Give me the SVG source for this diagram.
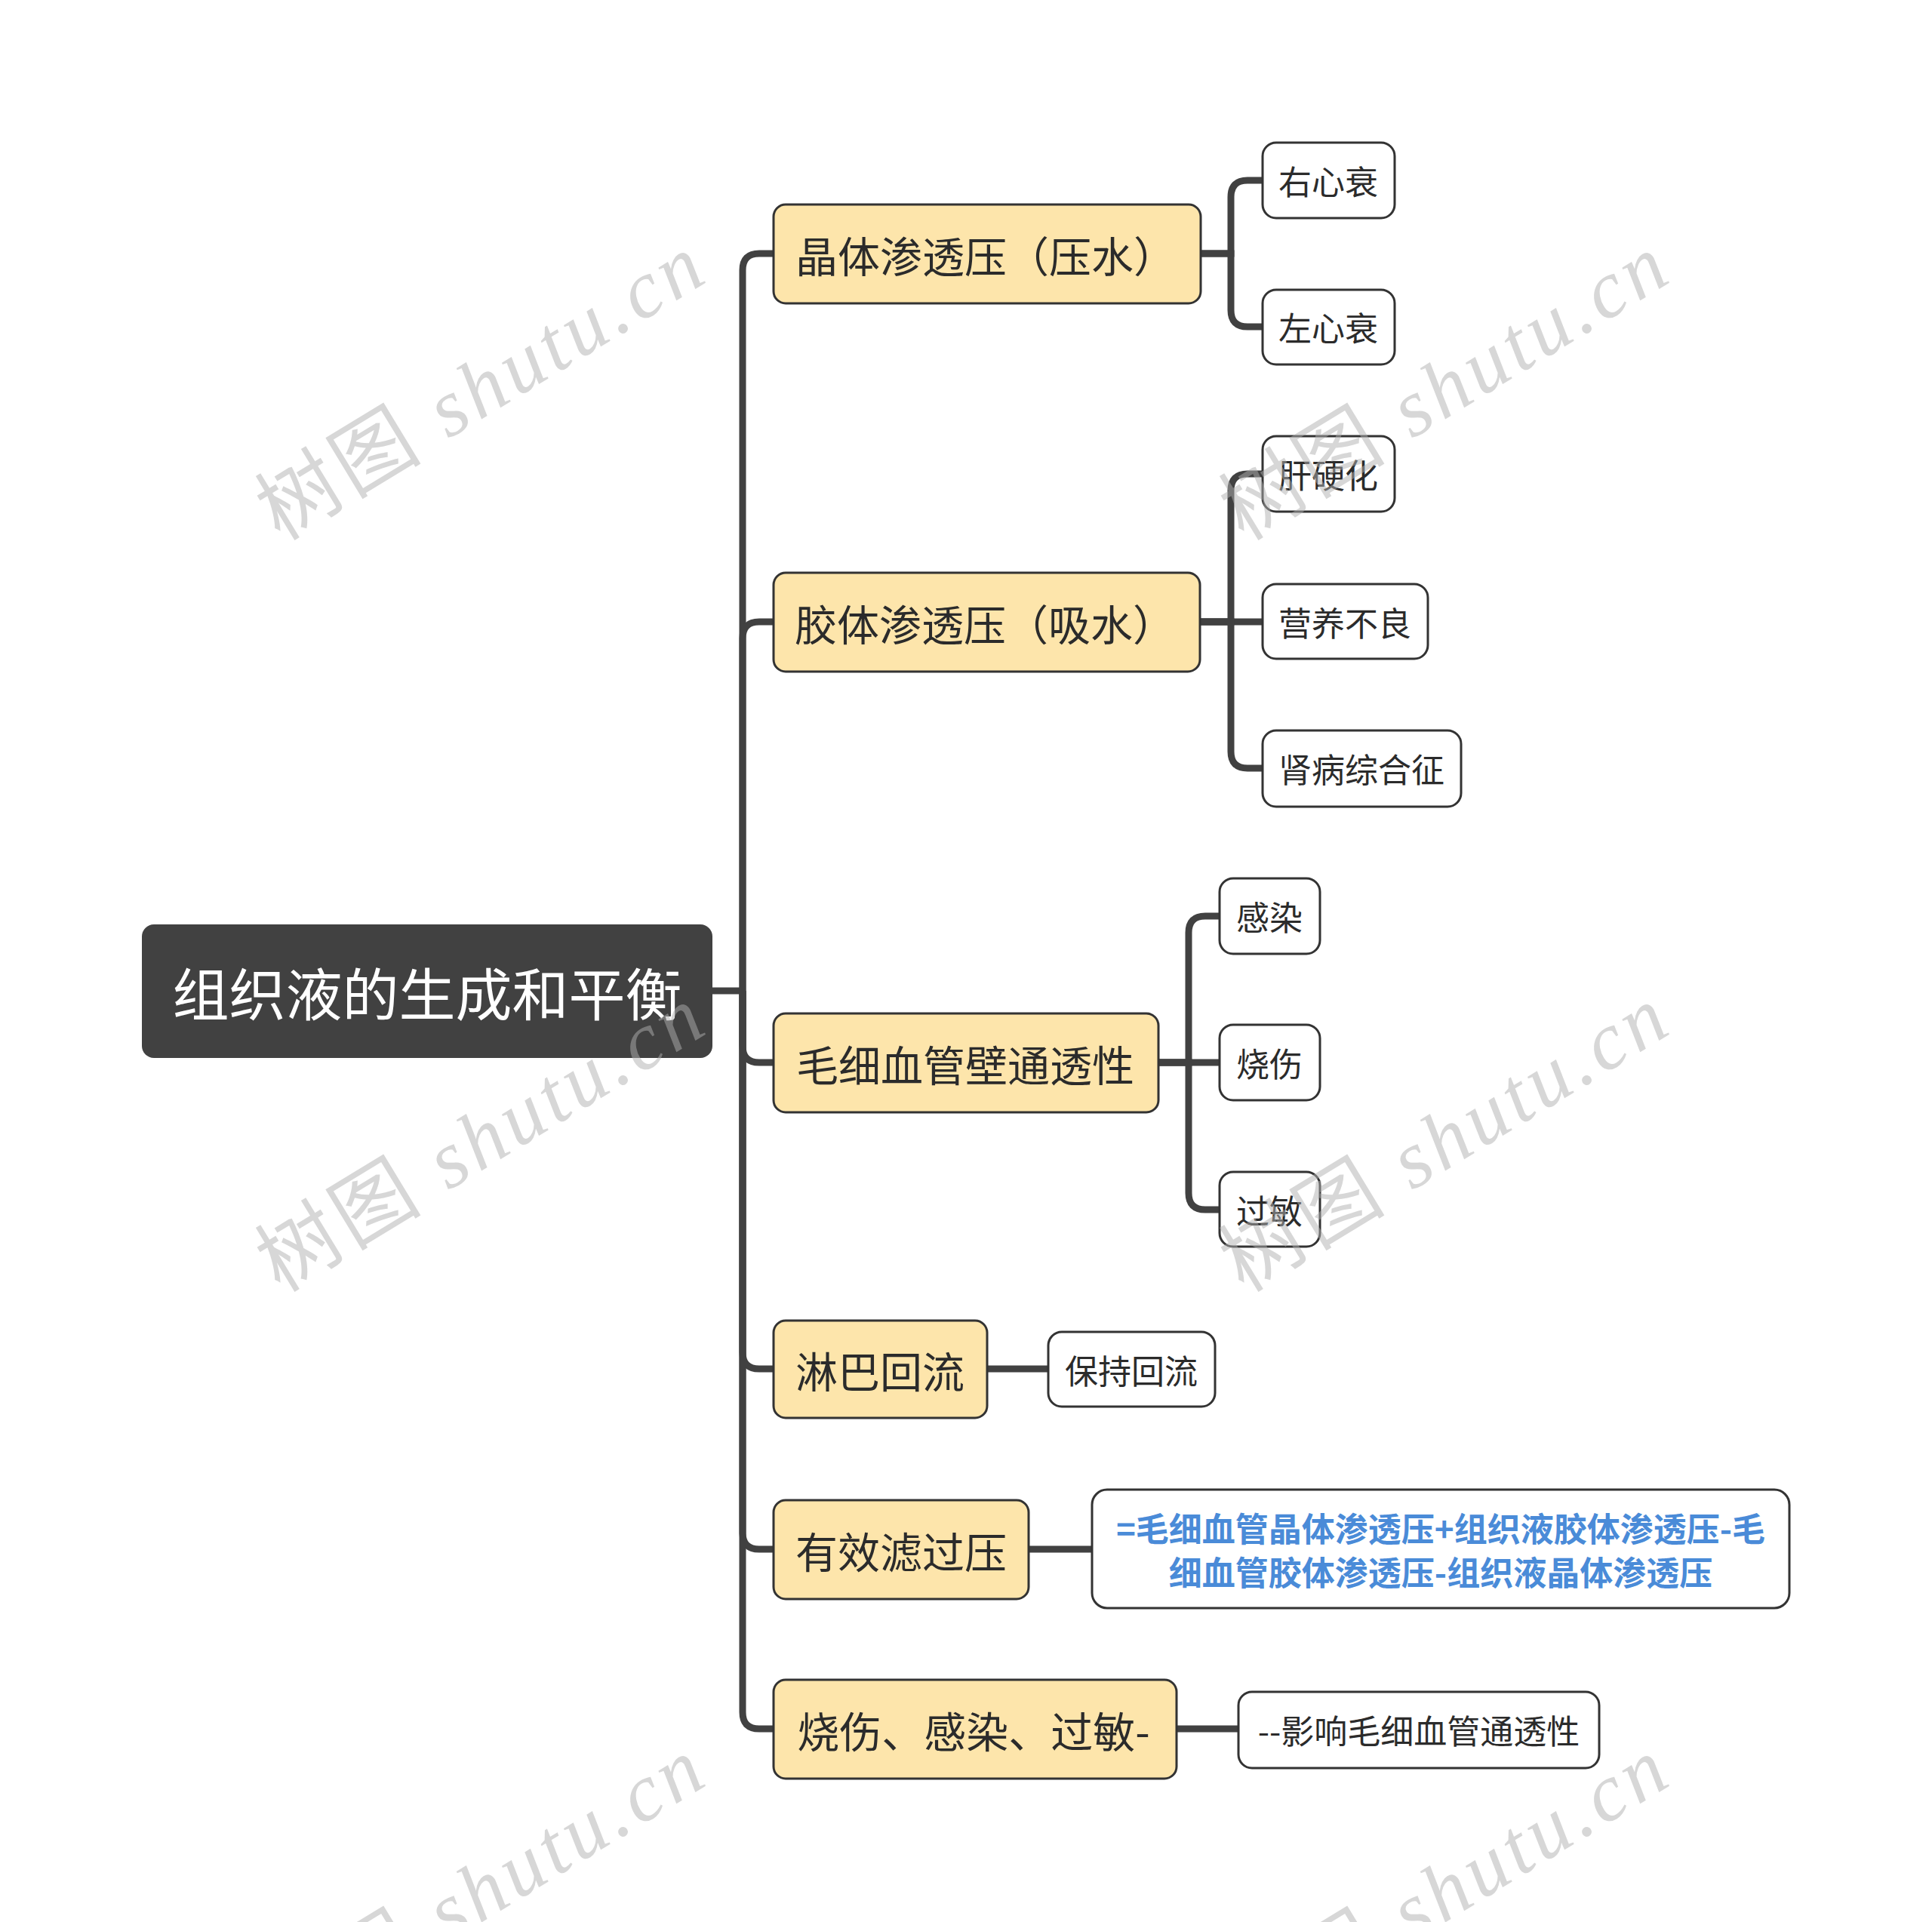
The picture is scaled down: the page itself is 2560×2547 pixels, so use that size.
<svg xmlns="http://www.w3.org/2000/svg" width="2560" height="2547" viewBox="0 0 2560 2547">
<style>
.bg{fill:#ffffff}
.conn path{fill:none;stroke:#414141;stroke-width:9}
.root rect{fill:#414141}
.root text{fill:#ffffff;font-size:75px}
.main rect{fill:#fde5ab;stroke:#333333;stroke-width:3}
.main text{fill:#2b2b2b;font-size:56px}
.sub rect{fill:#ffffff;stroke:#333333;stroke-width:3}
.sub text{fill:#2b2b2b;font-size:44px}
text{font-family:"Noto Sans CJK SC","Noto Sans",sans-serif;text-anchor:middle;dominant-baseline:central}
.formula{fill:#4a8bd8 !important;font-weight:bold}
.wm{fill:#b0b0b0;opacity:0.5;font-family:"Liberation Serif","Noto Sans CJK SC",serif;font-size:108px;dominant-baseline:alphabetic}
</style>
<rect class="bg" x="0" y="0" width="2560" height="2547"/>
<g id="connectors" class="conn">
<path d="M944 1313 H984"/>
<path d="M984 1313 V358 Q984 336 1006 336 H1025"/>
<path d="M984 1313 V846 Q984 824 1006 824 H1025"/>
<path d="M984 1313 V1386 Q984 1408 1006 1408 H1025"/>
<path d="M984 1313 V1792 Q984 1814 1006 1814 H1025"/>
<path d="M984 1313 V2031 Q984 2053 1006 2053 H1025"/>
<path d="M984 1313 V2269 Q984 2291 1006 2291 H1025"/>
<path d="M1591 336 H1631 V261 Q1631 239 1653 239 H1673"/>
<path d="M1591 336 H1631 V411 Q1631 433 1653 433 H1673"/>
<path d="M1590 824 H1631 V650 Q1631 628 1653 628 H1673"/>
<path d="M1590 824 H1673"/>
<path d="M1590 824 H1631 V996 Q1631 1018 1653 1018 H1673"/>
<path d="M1535 1408 H1575 V1236 Q1575 1214 1597 1214 H1616"/>
<path d="M1535 1408 H1616"/>
<path d="M1535 1408 H1575 V1581 Q1575 1603 1597 1603 H1616"/>
<path d="M1308 1814 H1389"/>
<path d="M1363 2053 H1447"/>
<path d="M1559 2291 H1641"/>
</g>
<g id="root" class="root"><rect x="188" y="1225" width="756" height="177" rx="16"/><text x="566" y="1313">组织液的生成和平衡</text></g>
<g id="b1" class="main"><rect x="1025" y="271" width="566" height="131" rx="16"/><text x="1306" y="336">晶体渗透压（压水）</text></g>
<g id="b2" class="main"><rect x="1025" y="759" width="565" height="131" rx="16"/><text x="1305" y="824">胶体渗透压（吸水）</text></g>
<g id="b3" class="main"><rect x="1025" y="1343" width="510" height="131" rx="16"/><text x="1279" y="1408">毛细血管壁通透性</text></g>
<g id="b4" class="main"><rect x="1025" y="1750" width="283" height="129" rx="16"/><text x="1166" y="1814">淋巴回流</text></g>
<g id="b5" class="main"><rect x="1025" y="1988" width="338" height="131" rx="16"/><text x="1194" y="2053">有效滤过压</text></g>
<g id="b6" class="main"><rect x="1025" y="2226" width="534" height="131" rx="16"/><text x="1290" y="2291">烧伤、感染、过敏-</text></g>
<g id="c1" class="sub"><rect x="1673" y="189" width="175" height="100" rx="18"/><text x="1760" y="239">右心衰</text></g>
<g id="c2" class="sub"><rect x="1673" y="384" width="175" height="99" rx="18"/><text x="1760" y="433">左心衰</text></g>
<g id="c3" class="sub"><rect x="1673" y="578" width="175" height="100" rx="18"/><text x="1760" y="628">肝硬化</text></g>
<g id="c4" class="sub"><rect x="1673" y="774" width="219" height="99" rx="18"/><text x="1782" y="824">营养不良</text></g>
<g id="c5" class="sub"><rect x="1673" y="968" width="263" height="101" rx="18"/><text x="1804" y="1018">肾病综合征</text></g>
<g id="c6" class="sub"><rect x="1616" y="1164" width="133" height="100" rx="18"/><text x="1682" y="1214">感染</text></g>
<g id="c7" class="sub"><rect x="1616" y="1358" width="133" height="100" rx="18"/><text x="1682" y="1408">烧伤</text></g>
<g id="c8" class="sub"><rect x="1616" y="1553" width="133" height="99" rx="18"/><text x="1682" y="1603">过敏</text></g>
<g id="c9" class="sub"><rect x="1389" y="1765" width="221" height="99" rx="18"/><text x="1499" y="1815">保持回流</text></g>
<g id="c10" class="sub"><rect x="1447" y="1974" width="924" height="157" rx="20"/><text class="formula" x="1909" y="2024">=毛细血管晶体渗透压+组织液胶体渗透压-毛</text><text class="formula" x="1909" y="2082">细血管胶体渗透压-组织液晶体渗透压</text></g>
<g id="c11" class="sub"><rect x="1641" y="2242" width="478" height="101" rx="18"/><text x="1880" y="2292">--影响毛细血管通透性</text></g>
<g id="watermarks">
<text class="wm" transform="translate(655,545) rotate(-31.3)" x="0" y="0" textLength="665">树图 <tspan font-style="italic">shutu.cn</tspan></text>
<text class="wm" transform="translate(1932,545) rotate(-31.3)" x="0" y="0" textLength="665">树图 <tspan font-style="italic">shutu.cn</tspan></text>
<text class="wm" transform="translate(655,1541) rotate(-31.3)" x="0" y="0" textLength="665">树图 <tspan font-style="italic">shutu.cn</tspan></text>
<text class="wm" transform="translate(1932,1541) rotate(-31.3)" x="0" y="0" textLength="665">树图 <tspan font-style="italic">shutu.cn</tspan></text>
<text class="wm" transform="translate(655,2537) rotate(-31.3)" x="0" y="0" textLength="665">树图 <tspan font-style="italic">shutu.cn</tspan></text>
<text class="wm" transform="translate(1932,2537) rotate(-31.3)" x="0" y="0" textLength="665">树图 <tspan font-style="italic">shutu.cn</tspan></text>
</g>
</svg>
